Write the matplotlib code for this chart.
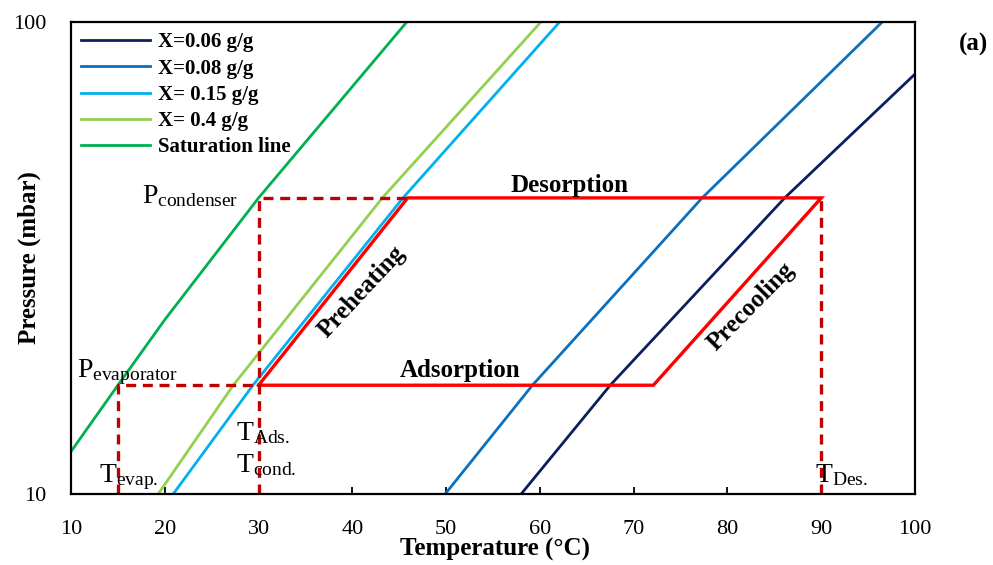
import matplotlib.pyplot as plt
from matplotlib.ticker import FixedLocator, NullLocator, FixedFormatter

plt.rcParams['font.family'] = ['Liberation Serif', 'DejaVu Serif']
plt.rcParams['mathtext.fontset'] = 'custom'
plt.rcParams['mathtext.rm'] = 'Liberation Serif'
plt.rcParams['mathtext.it'] = 'Liberation Serif:italic'
plt.rcParams['mathtext.bf'] = 'Liberation Serif:bold'

# isosteres (temperature in degC, pressure in mbar)
t_x006 = [58.0, 67.5, 86.1, 100.0]
p_x006 = [10.0, 17.0, 42.4, 77.6]
t_x008 = [49.9, 59.2, 77.3, 96.5]
p_x008 = [10.0, 17.0, 42.4, 100.0]
t_x015 = [20.9, 29.4, 45.4, 62.1]
p_x015 = [10.0, 17.0, 42.4, 100.0]
t_x04 = [19.3, 27.3, 43.2, 60.1]
p_x04 = [10.0, 17.0, 42.4, 100.0]
t_sat = [10.0, 15.0, 20.0, 30.0, 45.8]
p_sat = [12.3, 17.0, 23.4, 42.4, 100.0]

# cycle points
t_cycle = [30.0, 45.9, 90.0, 72.1, 30.0]
p_cycle = [17.0, 42.4, 42.4, 17.0, 17.0]
p_evap = 17.0
p_cond = 42.4
t_evap = 15.0
t_ads = 30.0
t_des = 90.0
t_pre = 45.9

series = [
    ("X=0.06 g/g", t_x006, p_x006, "#0b1f5e"),
    ("X=0.08 g/g", t_x008, p_x008, "#0a70c0"),
    ("X= 0.15 g/g", t_x015, p_x015, "#00b0f0"),
    ("X= 0.4 g/g", t_x04, p_x04, "#92d050"),
    ("Saturation line", t_sat, p_sat, "#00b050"),
]

fig = plt.figure(figsize=(9.93, 5.65), dpi=100)
ax = fig.add_axes([0.0715, 0.1257, 0.85, 0.8353])

for name, t, p, c in series:
    ax.plot(t, p, color=c, lw=2.0, label=name)

ax.plot(t_cycle, p_cycle, color="#ff0000", lw=2.4, solid_joinstyle="miter")

dash = dict(color="#c00000", lw=2.4, ls=(0, (3, 2)))
ax.plot([t_evap, t_evap, t_ads], [10, p_evap, p_evap], **dash)
ax.plot([t_ads, t_ads, t_pre], [10, p_cond, p_cond], **dash)
ax.plot([t_des, t_des], [10, p_cond], **dash)

ax.set_yscale("log")
ax.set_xlim(10, 100)
ax.set_ylim(10, 100)
ax.yaxis.set_major_locator(FixedLocator([10, 100]))
ax.yaxis.set_major_formatter(FixedFormatter(["10", "100"]))
ax.yaxis.set_minor_locator(NullLocator())
ax.set_xticks(range(10, 101, 10))
ax.tick_params(axis="x", direction="in", length=5, width=1.3, pad=19, labelsize=16)
ax.tick_params(axis="y", length=0, pad=18, labelsize=16)
for s in ax.spines.values():
    s.set_linewidth(1.6)

ax.set_xlabel("Temperature (°C)", fontsize=18, fontweight="bold", va="top")
ax.xaxis.set_label_coords(0.502, -0.094)
ax.set_ylabel("Pressure (mbar)", fontsize=18, fontweight="bold", va="center")
ax.yaxis.set_label_coords(-0.049, 0.5)

leg = ax.legend(loc="upper left", frameon=False, prop={"size": 15, "weight": "bold"},
                handlelength=3.3, handletextpad=0.4, labelspacing=0.3,
                borderaxespad=0.1)

fs = 20
ax.text(27.8, 41.4, r"P$_{\mathrm{condenser}}$", fontsize=fs, ha="right", va="baseline")
ax.text(21.4, 17.7, r"P$_{\mathrm{evaporator}}$", fontsize=fs, ha="right", va="baseline")
ax.text(27.6, 13.0, r"T$_{\mathrm{Ads.}}$", fontsize=fs, ha="left", va="baseline")
ax.text(27.6, 11.1, r"T$_{\mathrm{cond.}}$", fontsize=fs, ha="left", va="baseline")
ax.text(13.0, 10.6, r"T$_{\mathrm{evap.}}$", fontsize=fs, ha="left", va="baseline")
ax.text(89.3, 10.6, r"T$_{\mathrm{Des.}}$", fontsize=fs, ha="left", va="baseline")
ax.text(63.2, 43.6, "Desorption", fontsize=18, fontweight="bold", ha="center", va="baseline")
ax.text(51.5, 17.7, "Adsorption", fontsize=18, fontweight="bold", ha="center", va="baseline")
ax.text(41.0, 26.8, "Preheating", fontsize=18, fontweight="bold", ha="center", va="center", rotation=47)
ax.text(82.5, 24.9, "Precooling", fontsize=18, fontweight="bold", ha="center", va="center", rotation=45.5)

fig.text(0.995, 0.922, "(a)", fontsize=18, fontweight="bold", ha="right", va="center")

fig.savefig("out.png", dpi=100)
